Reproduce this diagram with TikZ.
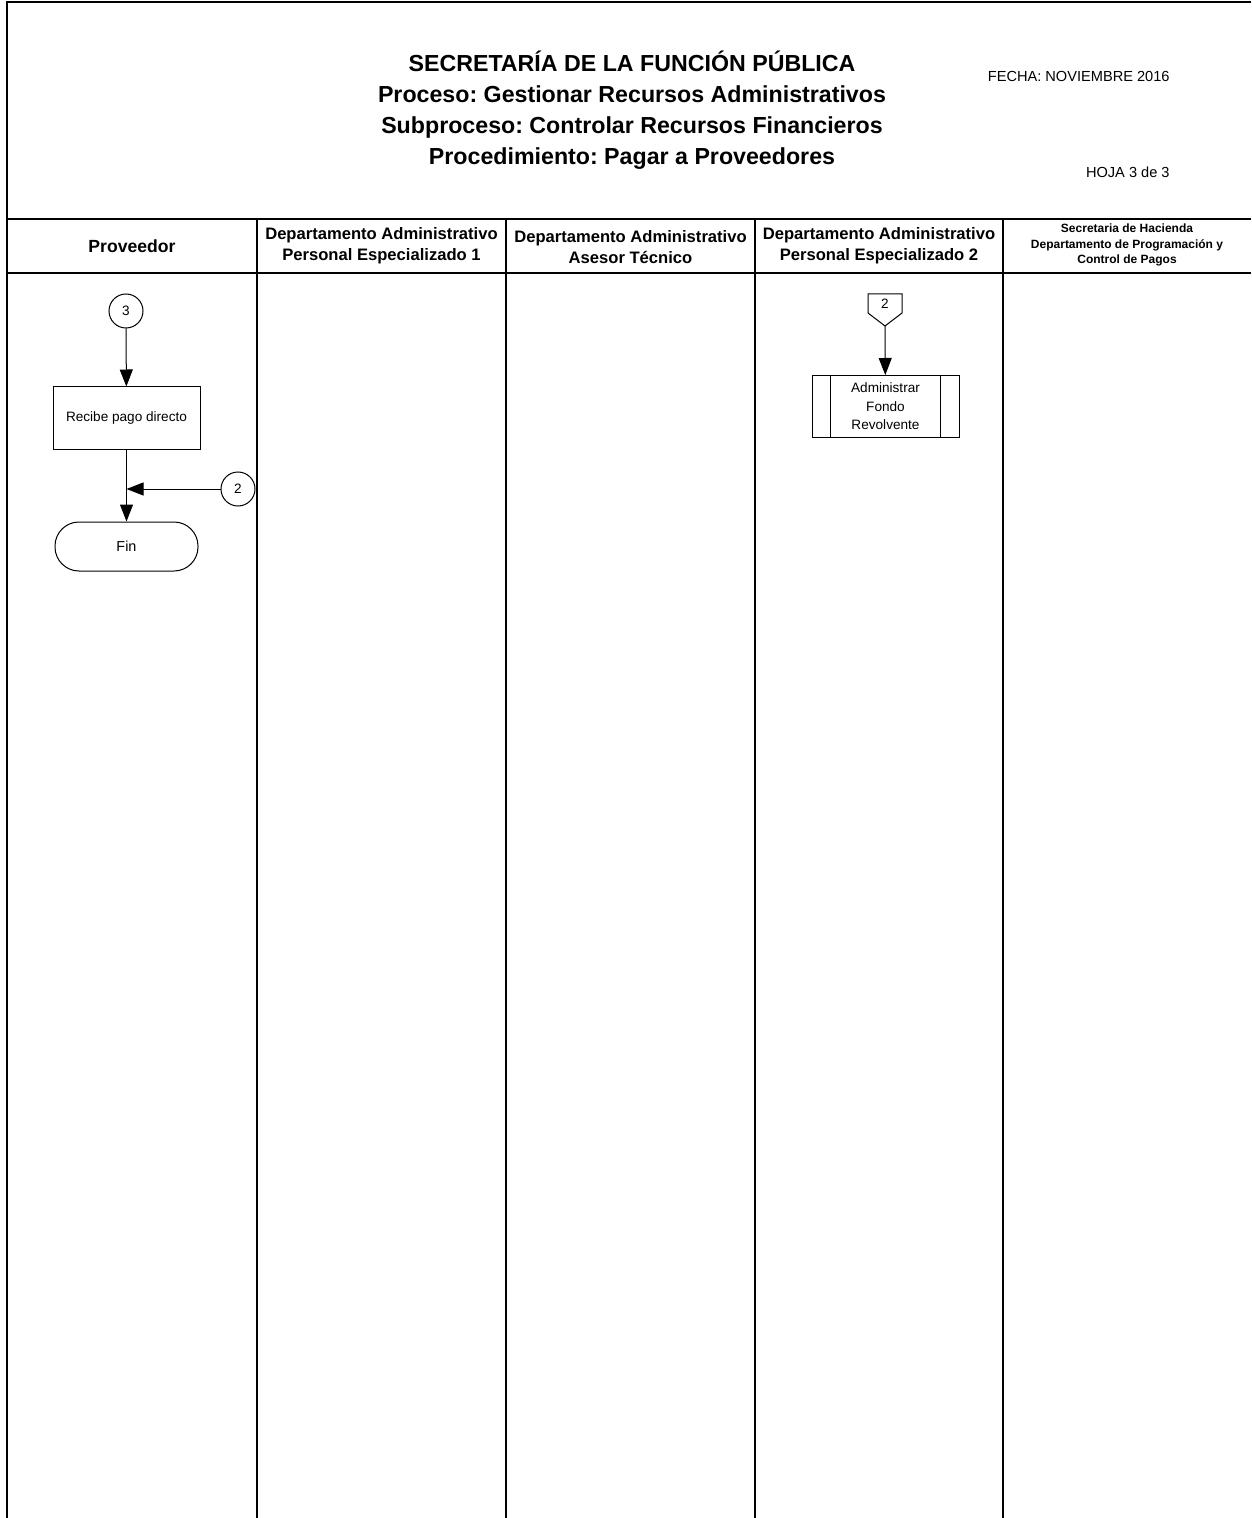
\documentclass[tikz,border=0pt]{standalone}
\usepackage{fontspec}
\setmainfont{Liberation Sans}
\usetikzlibrary{arrows.meta}
\frenchspacing
\tikzset{
  frame/.style={line width=0.9pt},
  nd/.style={draw, line width=0.5pt, font=\fontsize{6.8}{9.3}\selectfont, inner sep=0pt, align=center},
  conn/.style={nd, circle, minimum size=17pt},
  procbox/.style={nd, rectangle, minimum width=73.5pt, minimum height=31pt},
  term/.style={nd, rectangle, rounded corners=12pt, minimum width=71.5pt, minimum height=24.5pt},
  flow/.style={line width=0.5pt, -{Triangle[length=8.5pt,width=6.5pt]}},
  lanehead/.style={font=\fontsize{8.3}{10.5}\selectfont\bfseries, align=center, inner sep=0pt},
  smallhead/.style={font=\fontsize{6}{7.6}\selectfont\bfseries, align=center, inner sep=0pt},
  info/.style={font=\fontsize{7.3}{9}\selectfont, inner sep=0pt}
}
\begin{document}
\begin{tikzpicture}[x=0.5pt,y=-0.5pt]
\useasboundingbox (0,0) rectangle (1251,1518);
% frame
\draw[frame] (7,1518) -- (7,2) -- (1251,2);
\draw[frame] (7,219) -- (1251,219);
\draw[frame] (7,273) -- (1251,273);
\foreach \x in {257,506,755,1003} \draw[frame] (\x,219) -- (\x,1518);
% title
\node[font=\fontsize{11.6}{15.5}\selectfont\bfseries, align=center, inner sep=0pt] (title) at (632,110)
 {SECRETARÍA DE LA FUNCIÓN PÚBLICA\\Proceso: Gestionar Recursos Administrativos\\Subproceso: Controlar Recursos Financieros\\Procedimiento: Pagar a Proveedores};
\node[info, anchor=east] (fecha) at (1170,76) {FECHA: NOVIEMBRE 2016};
\node[info, anchor=east] (hoja) at (1170,172) {HOJA 3 de 3};
% lane headers
\node[lanehead, font=\fontsize{8.8}{10.5}\selectfont\bfseries] (h1) at (132,246) {Proveedor};
\node[lanehead] (h2) at (381.5,246) {Departamento Administrativo\\Personal Especializado 1};
\node[lanehead] (h3) at (630.5,247) {Departamento Administrativo\\Asesor Técnico};
\node[lanehead] (h4) at (879,246) {Departamento Administrativo\\Personal Especializado 2};
\node[smallhead] (h5) at (1127,245) {Secretaria de Hacienda\\Departamento de Programación y\\Control de Pagos};
% Proveedor lane
\node[conn] (c3) at (126,311) {3};
\node[procbox] (recibe) at (126.5,418) {Recibe pago directo};
\node[term, font=\fontsize{7.2}{9}\selectfont] (fin) at (126.5,546.5) {Fin};
\node[conn] (c2) at (238,489) {2};
\coordinate (j) at (126.5,489);
\draw[flow] (c3) -- (recibe);
\draw[flow] (recibe) -- (fin);
\draw[flow] (c2) -- (j);
% Personal Especializado 2 lane
\node[font=\fontsize{6.8}{8}\selectfont, inner sep=0pt] (optext) at (885,304) {2};
\draw[line width=0.5pt] (868,294) -- (902,294) -- (902,313) -- (885,326) -- (868,313) -- cycle;
\coordinate (opb) at (885,326);
\node[procbox] (admin) at (885.5,406.5) {Administrar\\Fondo\\Revolvente};
\draw[line width=0.5pt] ([xshift=9.5pt]admin.north west) -- ([xshift=9.5pt]admin.south west);
\draw[line width=0.5pt] ([xshift=-9.5pt]admin.north east) -- ([xshift=-9.5pt]admin.south east);
\draw[flow] (opb) -- (admin);
\end{tikzpicture}
\end{document}
